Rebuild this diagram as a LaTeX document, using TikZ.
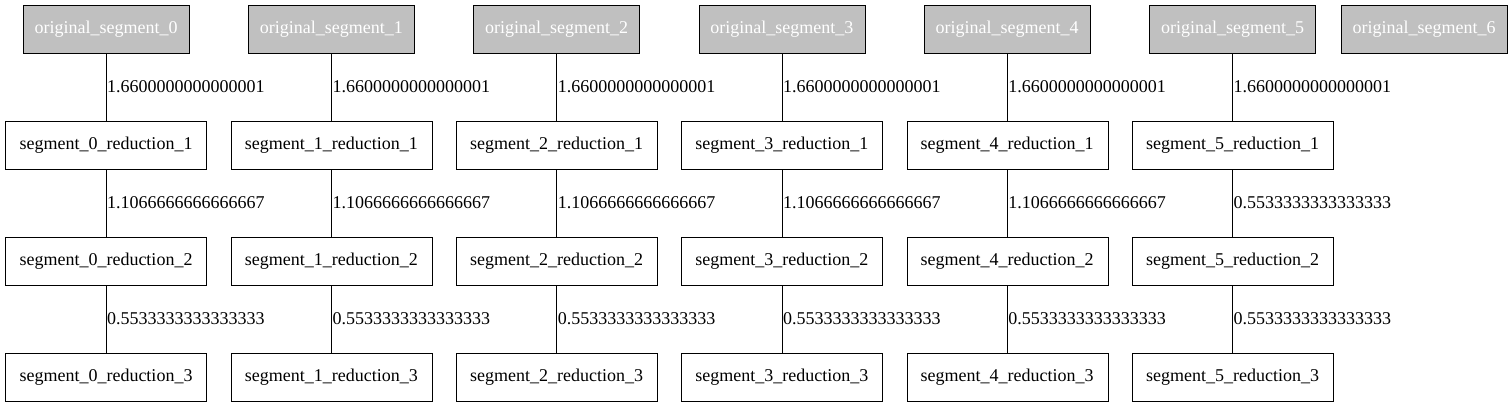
\documentclass[tikz,border=0pt]{standalone}
\usepackage{fontspec}
\setmainfont{Liberation Serif}
\usetikzlibrary{positioning}
\definecolor{origgrey}{HTML}{C0C0C0}

\begin{document}
\begin{tikzpicture}[x=1pt, y=-1pt]
\tikzset{origbox/.style={draw, fill=origgrey, text=white, minimum width=166, minimum height=48, inner sep=0},
redbox/.style={draw, minimum width=201, minimum height=48, inner sep=0},
edgelabel/.style={anchor=west, inner sep=0, xshift=1pt}}
\useasboundingbox (0,0) rectangle (1512,407);
\fontsize{18}{22}\selectfont

%% Original segments
\foreach \i in {0,...,5} \node (o\i) [origbox] at ({106+225.3*\i}, 29) {original\_segment\_\i};
\node (o6) [origbox] at (1424, 29) {original\_segment\_6};

%% Reductions
\foreach \i in {0,...,5}
  \foreach \r in {1,2,3}
    \node (s\i-\r) [redbox] at ({106+225.3*\i}, {29+116*\r}) {segment\_\i\_reduction\_\r};

%% Edges
\foreach \i in {0,...,5} \draw (o\i) -- node[edgelabel] {1.6600000000000001} (s\i-1);
\foreach \i in {0,...,4} \draw (s\i-1) -- node[edgelabel] {1.1066666666666667} (s\i-2);
\draw (s5-1) -- node[edgelabel] {0.5533333333333333} (s5-2);
\foreach \i in {0,...,5} \draw (s\i-2) -- node[edgelabel] {0.5533333333333333} (s\i-3);

\end{tikzpicture}
\end{document}
